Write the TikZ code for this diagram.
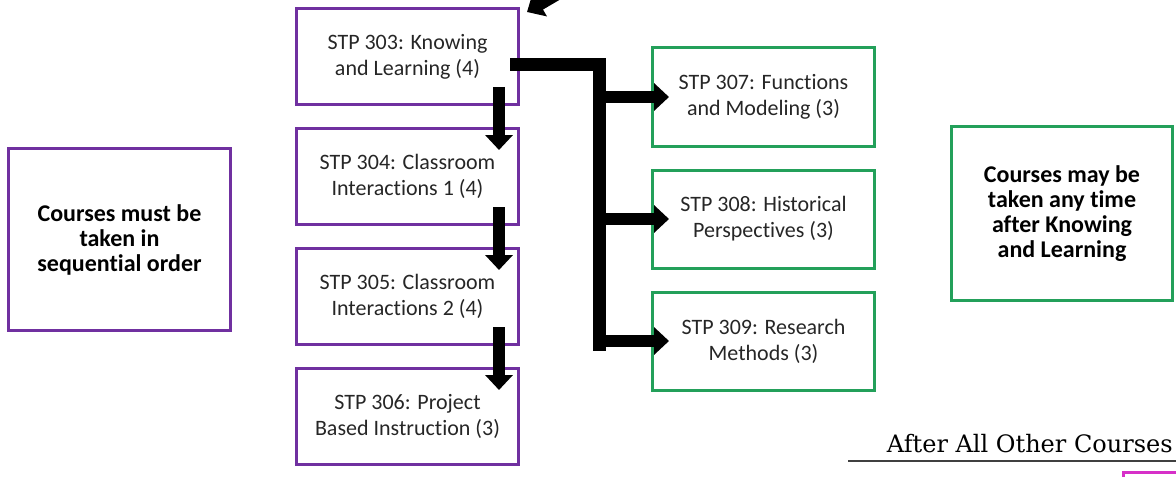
\documentclass[tikz,border=0pt]{standalone}
\usepackage{fontspec}
\setmainfont{Carlito}[Ligatures=NoCommon]
\newfontfamily\headfont{DejaVu Serif}
\usetikzlibrary{arrows.meta,calc,positioning}
\definecolor{stpurple}{RGB}{112,48,160}
\definecolor{stgreen}{RGB}{35,160,90}
\definecolor{stpink}{RGB}{214,48,200}

\begin{document}
\begin{tikzpicture}[x=0.5pt,y=-0.5pt,font=\fontsize{11}{13}\selectfont,node distance=10.5pt,
    seqbox/.style={draw=stpurple,line width=1.5pt,minimum width=111pt,minimum height=48pt,align=center,text=black!85},
    anybox/.style={draw=stgreen,line width=1.5pt,minimum width=111pt,minimum height=49pt,align=center,text=black!85},
    notetext/.style={font=\fontsize{12}{12.5}\selectfont\bfseries,text=black},
    bigarrow/.style={line width=6pt,-{Triangle[width=13.5pt,length=7.5pt]}}]
        \useasboundingbox (0,0) rectangle (1176,476);
        \clip (0,0) rectangle (1176,476);
        % sequential courses
        \node[seqbox] (s303) at (407.5,56.5) {STP 303: Knowing\\and Learning (4)};
        \node[seqbox,below=of s303] (s304) {STP 304: Classroom\\Interactions 1 (4)};
        \node[seqbox,below=of s304] (s305) {STP 305: Classroom\\Interactions 2 (4)};
        \node[seqbox,below=of s305] (s306) {STP 306: Project\\Based Instruction (3)};
        % any-time courses
        \node[anybox] (s307) at (763.5,97) {STP 307: Functions\\and Modeling (3)};
        \node[anybox,below=of s307] (s308) {STP 308: Historical\\Perspectives (3)};
        \node[anybox,below=of s308] (s309) {STP 309: Research\\Methods (3)};
        % notes
        \node[seqbox,notetext,minimum height=91pt] (seqnote) at (119.5,239.5) {Courses must be\\taken in\\sequential order};
        \node[anybox,notetext,minimum width=110.5pt,minimum height=87pt] (anynote) at (1062,213.5) {Courses may be\\taken any time\\after Knowing\\and Learning};
        \node[anchor=base east,inner sep=0pt,font=\headfont\fontsize{12}{13}\selectfont] (last) at (1173,452) {After All Other Courses};
        \draw[line width=0.8pt,black!75] (848,461) -- (1176,461);
        \node[draw=stpink,line width=1.5pt,anchor=north west,minimum width=60pt,minimum height=40pt] (final) at (1122,471) {};
        % arrows
        \coordinate (feed) at (590,-25);
        \draw[bigarrow] (feed) -- ([xshift=3.5pt,yshift=-2.5pt]s303.north east);
        \draw[bigarrow] ([xshift=-10.5pt,yshift=9.5pt]s303.south east) -- ([xshift=-10.5pt,yshift=-11.5pt]s304.north east);
        \draw[bigarrow] ([xshift=-10.5pt,yshift=9.5pt]s304.south east) -- ([xshift=-10.5pt,yshift=-11.5pt]s305.north east);
        \draw[bigarrow] ([xshift=-10.5pt,yshift=9.5pt]s305.south east) -- ([xshift=-10.5pt,yshift=-11.5pt]s306.north east);
        \coordinate (busend) at (599.5,351);
        \draw[line width=6.5pt] ([xshift=-5pt,yshift=-4.25pt]s303.east) -| (busend);
        \draw[bigarrow] (busend |- s307.west) -- ([xshift=9pt]s307.west);
        \draw[bigarrow] (busend |- s308.west) -- ([xshift=9pt]s308.west);
        \draw[bigarrow] (busend |- s309.west) -- ([xshift=9pt]s309.west);
      \end{tikzpicture}
\end{document}
